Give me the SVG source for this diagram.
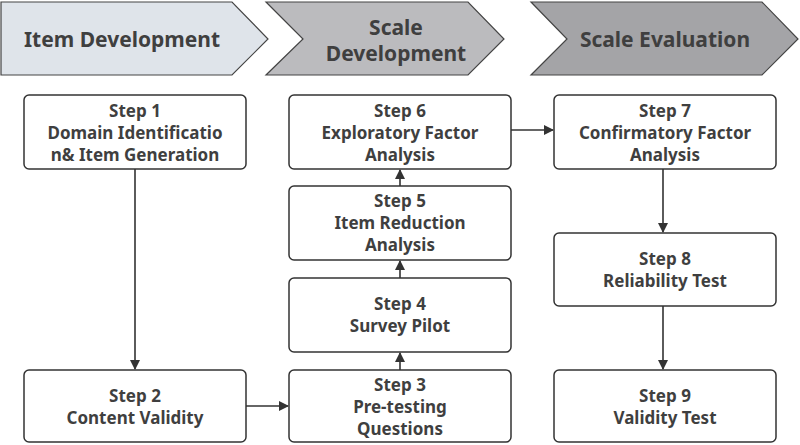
<svg xmlns="http://www.w3.org/2000/svg" width="800" height="445" viewBox="0 0 800 445">
<defs>
<style>
text{font-family:"Noto Sans","Open Sans","DejaVu Sans",sans-serif;font-weight:bold;fill:#3f3f3f;text-anchor:middle}
.b{font-size:21px}
.t{font-size:17px}
.box{fill:#fff;stroke:#333;stroke-width:1.5}
.ban{stroke:#444;stroke-width:1.2}
.c{stroke:#333;stroke-width:1.6;fill:none;marker-end:url(#ah)}
</style>
<marker id="ah" viewBox="0 0 10 10" refX="9" refY="5" markerWidth="10" markerHeight="10" orient="auto" markerUnits="userSpaceOnUse" >
<path d="M0,0L10,5L0,10z" fill="#333"/>
</marker>
</defs>
<g id="banner1"><path class="ban" d="M1,2H232L268,39L232,75H1Z" fill="#dfe4ea"/><text class="b" x="122" y="47">Item Development</text></g>
<g id="banner2"><path class="ban" d="M266,2H468L504,39L468,75H266L303,39Z" fill="#bbbbbe"/><text class="b" x="396" y="35">Scale</text><text class="b" x="396" y="61">Development</text></g>
<g id="banner3"><path class="ban" d="M531,2H762L798,39L762,75H531L567,39Z" fill="#a4a4a7"/><text class="b" x="665" y="47">Scale Evaluation</text></g>
<g id="step1"><rect class="box" x="24" y="95" width="222" height="74" rx="5"/><text class="t" x="135" y="117">Step 1</text><text class="t" x="135" y="139">Domain Identificatio</text><text class="t" x="135" y="161">n&amp; Item Generation</text></g>
<g id="step2"><rect class="box" x="24" y="370" width="222" height="72" rx="5"/><text class="t" x="135" y="402">Step 2</text><text class="t" x="135" y="424">Content Validity</text></g>
<g id="step3"><rect class="box" x="289" y="370" width="222" height="72" rx="5"/><text class="t" x="400" y="391">Step 3</text><text class="t" x="400" y="413">Pre-testing</text><text class="t" x="400" y="435">Questions</text></g>
<g id="step4"><rect class="box" x="289" y="278" width="222" height="74" rx="5"/><text class="t" x="400" y="310">Step 4</text><text class="t" x="400" y="332">Survey Pilot</text></g>
<g id="step5"><rect class="box" x="289" y="186" width="222" height="74" rx="5"/><text class="t" x="400" y="207">Step 5</text><text class="t" x="400" y="229">Item Reduction</text><text class="t" x="400" y="251">Analysis</text></g>
<g id="step6"><rect class="box" x="289" y="95" width="222" height="74" rx="5"/><text class="t" x="400" y="117">Step 6</text><text class="t" x="400" y="139">Exploratory Factor</text><text class="t" x="400" y="161">Analysis</text></g>
<g id="step7"><rect class="box" x="554" y="95" width="222" height="74" rx="5"/><text class="t" x="665" y="117">Step 7</text><text class="t" x="665" y="139">Confirmatory Factor</text><text class="t" x="665" y="161">Analysis</text></g>
<g id="step8"><rect class="box" x="554" y="233" width="222" height="73" rx="5"/><text class="t" x="665" y="265">Step 8</text><text class="t" x="665" y="287">Reliability Test</text></g>
<g id="step9"><rect class="box" x="554" y="370" width="222" height="72" rx="5"/><text class="t" x="665" y="402">Step 9</text><text class="t" x="665" y="424">Validity Test</text></g>
<g id="connectors">
<path class="c" d="M135,169V369"/>
<path class="c" d="M246,406H288"/>
<path class="c" d="M400,370V353"/>
<path class="c" d="M400,278V261"/>
<path class="c" d="M400,186V170"/>
<path class="c" d="M511,130H553"/>
<path class="c" d="M663,169V232"/>
<path class="c" d="M663,306V369"/>
</g>
</svg>
